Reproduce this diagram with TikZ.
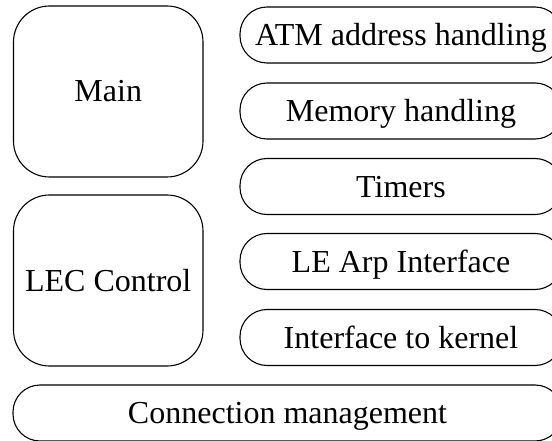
\documentclass[tikz,border=0pt]{standalone}
\usepackage{fontspec}
\setmainfont{Liberation Serif}
\begin{document}
\begin{tikzpicture}[x=1pt,y=-1pt,
  box/.style={draw, line width=1.1pt, align=center,
    font=\fontsize{32}{38}\selectfont,
    text height=28pt, text depth=7pt, inner sep=0pt},
  bigbox/.style={box, minimum width=189.5pt, minimum height=171pt, rounded corners=36pt},
  pill/.style={box, minimum width=322pt, minimum height=56pt, rounded corners=27pt},
  widepill/.style={box, minimum width=549pt, minimum height=56pt, rounded corners=27pt}]
  \useasboundingbox (0,0) rectangle (552,441);
  % left column
  \node[bigbox] (main) at (108.25,91.5) {Main};
  \node[bigbox] (lec)  at (108.25,280.5) {LEC Control};
  % right column of service modules
  \node[pill] (atm)    at (401,35)    {ATM address handling};
  \node[pill] (mem)    at (401,111)   {Memory handling};
  \node[pill] (timers) at (401,186.5) {Timers};
  \node[pill] (learp)  at (401,261.5) {LE Arp Interface};
  \node[pill] (kernel) at (401,337.5) {Interface to kernel};
  % bottom layer
  \node[widepill] (conn) at (287.5,413) {Connection management};
\end{tikzpicture}
\end{document}
